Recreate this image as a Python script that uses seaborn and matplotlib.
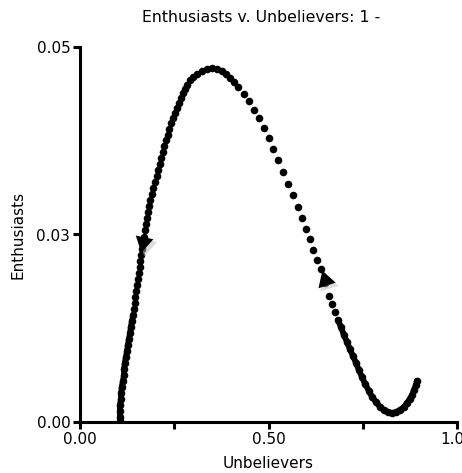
import matplotlib
matplotlib.use("Agg")
import matplotlib.pyplot as plt
import seaborn as sns
import pandas as pd

# Trajectory (time order: starts near (0.89, 0.0055), ends at (0.106, 0))
unbelievers = [0.894, 0.891, 0.886, 0.881, 0.875, 0.867, 0.859, 0.849, 0.838, 0.828,
               0.817, 0.806, 0.796, 0.785, 0.775, 0.767, 0.756, 0.748, 0.740, 0.732,
               0.724, 0.716, 0.708, 0.700, 0.692, 0.684, 0.676, 0.668, 0.660, 0.650,
               0.639, 0.629, 0.618, 0.610, 0.599, 0.589, 0.578, 0.565, 0.552, 0.538,
               0.525, 0.512, 0.501, 0.488, 0.475, 0.462, 0.448, 0.435, 0.419, 0.408,
               0.398, 0.387, 0.377, 0.363, 0.350, 0.337, 0.324, 0.310, 0.300, 0.292,
               0.284, 0.279, 0.273, 0.268, 0.263, 0.257, 0.252, 0.247, 0.241, 0.236,
               0.233, 0.228, 0.223, 0.220, 0.215, 0.212, 0.207, 0.204, 0.199, 0.194,
               0.191, 0.186, 0.183, 0.180, 0.178, 0.175, 0.172, 0.170, 0.167, 0.164,
               0.162, 0.159, 0.159, 0.156, 0.154, 0.151, 0.149, 0.146, 0.146, 0.143,
               0.141, 0.138, 0.135, 0.133, 0.130, 0.127, 0.125, 0.122, 0.119, 0.117,
               0.117, 0.114, 0.111, 0.109, 0.109, 0.106, 0.106, 0.106, 0.106]
enthusiasts = [0.0055, 0.0049, 0.0043, 0.0036, 0.0031, 0.0025, 0.0020, 0.0016, 0.0013, 0.0012,
               0.0013, 0.0016, 0.0020, 0.0027, 0.0033, 0.0041, 0.0051, 0.0060, 0.0069, 0.0079,
               0.0088, 0.0097, 0.0107, 0.0116, 0.0127, 0.0136, 0.0147, 0.0157, 0.0168, 0.0185,
               0.0204, 0.0216, 0.0229, 0.0244, 0.0257, 0.0272, 0.0287, 0.0303, 0.0317, 0.0333,
               0.0349, 0.0364, 0.0379, 0.0392, 0.0405, 0.0416, 0.0428, 0.0437, 0.0447, 0.0453,
               0.0459, 0.0464, 0.0468, 0.0471, 0.0472, 0.0471, 0.0468, 0.0464, 0.0460, 0.0456,
               0.0449, 0.0444, 0.0439, 0.0432, 0.0425, 0.0419, 0.0412, 0.0405, 0.0399, 0.0391,
               0.0383, 0.0376, 0.0368, 0.0360, 0.0352, 0.0344, 0.0336, 0.0328, 0.0320, 0.0312,
               0.0304, 0.0296, 0.0288, 0.0280, 0.0272, 0.0264, 0.0256, 0.0247, 0.0239, 0.0231,
               0.0223, 0.0215, 0.0207, 0.0199, 0.0191, 0.0183, 0.0175, 0.0167, 0.0159, 0.0151,
               0.0143, 0.0135, 0.0127, 0.0119, 0.0111, 0.0103, 0.0095, 0.0087, 0.0079, 0.0071,
               0.0063, 0.0055, 0.0047, 0.0039, 0.0031, 0.0023, 0.0015, 0.0007, 0.0001]

# Slow (densely sampled) stretches of the trajectory drawn as a solid band
slow_start_end = 26      # first points, near the right-hand minimum
slow_end_start = 100     # last points, near the left-hand bottom

# Direction arrows on the trajectory
arrow_x = [0.168, 0.650]
arrow_y = [0.0240, 0.0190]
arrow_angle = [168, 18]

x_ticks = [0.0, 0.25, 0.5, 0.75, 1.0]
x_ticklabels = ["0.00", "", "0.50", "", "1.00"]
y_ticks = [0.0, 0.025, 0.05]
y_ticklabels = ["0.00", "0.03", "0.05"]

title = "Enthusiasts v. Unbelievers: 1 -"
xlabel = "Unbelievers"
ylabel = "Enthusiasts"

sns.set_style("white")
plt.rcParams['font.family'] = ['DejaVu Sans']
plt.rcParams['text.color'] = 'black'

fig = plt.figure(figsize=(4.62, 4.73), dpi=100)
ax = fig.add_axes([80 / 462, 1 - 422 / 473, 377 / 462, (422 - 47) / 473])

df = pd.DataFrame({"Unbelievers": unbelievers, "Enthusiasts": enthusiasts})
sns.scatterplot(data=df, x="Unbelievers", y="Enthusiasts", ax=ax,
                color="black", s=30, marker="o", linewidth=0, zorder=3)
sns.lineplot(data=df.iloc[:slow_start_end], x="Unbelievers", y="Enthusiasts", ax=ax,
             sort=False, color="black", linewidth=4.2, zorder=3,
             solid_capstyle="round", estimator=None)
sns.lineplot(data=df.iloc[slow_end_start:], x="Unbelievers", y="Enthusiasts", ax=ax,
             sort=False, color="black", linewidth=4.2, zorder=3,
             solid_capstyle="round", estimator=None)

for ax_x, ax_y, ang in zip(arrow_x, arrow_y, arrow_angle):
    ax.plot([ax_x + 0.006], [ax_y - 0.0004], marker=(3, 0, ang), markersize=16,
            color="#bbbbbb", alpha=0.5, markeredgewidth=0, zorder=3.5, linestyle="none")
    ax.plot([ax_x], [ax_y], marker=(3, 0, ang), markersize=15,
            color="black", markeredgewidth=0, zorder=4, linestyle="none")

ax.set_xlim(0, 1.0)
ax.set_ylim(0, 0.05)
ax.set_xticks(x_ticks)
ax.set_xticklabels(x_ticklabels)
ax.set_yticks(y_ticks)
ax.set_yticklabels(y_ticklabels)

for side in ["top", "right"]:
    ax.spines[side].set_visible(False)
for side in ["left", "bottom"]:
    ax.spines[side].set_linewidth(2.2)
    ax.spines[side].set_color("black")
ax.tick_params(axis="both", direction="out", length=5, width=2.2,
               colors="black", labelcolor="black", labelsize=11, pad=2,
               bottom=True, left=True)

ax.set_xlabel("")
ax.set_ylabel("")
fig.text(268 / 462, 1 - 463 / 473, xlabel, ha="center", va="center",
         fontsize=11, color="black")
fig.text(18 / 462, 1 - 235 / 473, ylabel, ha="center", va="center",
         rotation=90, fontsize=11, color="black")
fig.text(261 / 462, 1 - 17 / 473, title, ha="center", va="center",
         fontsize=11.3, color="black")

fig.savefig("out.png", dpi=100)
